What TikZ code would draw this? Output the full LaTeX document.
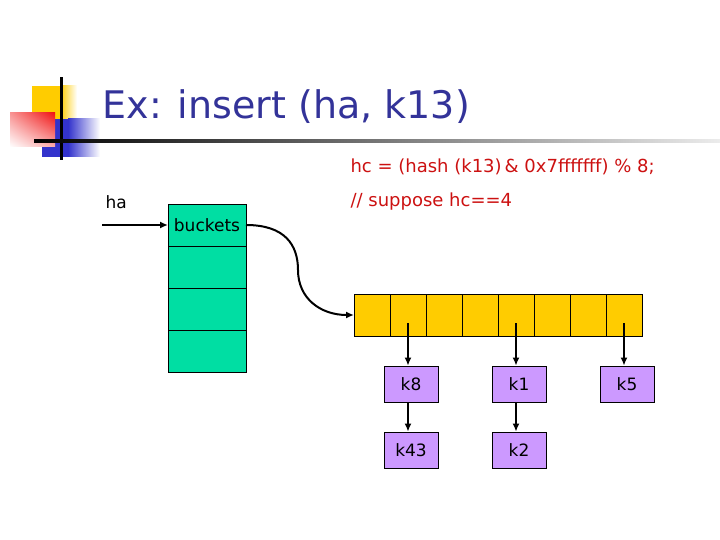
\documentclass[tikz,border=0pt]{standalone}
\usepackage{fontspec}
\setmainfont{DejaVu Sans}
\usetikzlibrary{arrows.meta,positioning,shadings}
\definecolor{titleblue}{RGB}{51,51,153}
\definecolor{codered}{RGB}{204,17,17}
\definecolor{bucketgreen}{RGB}{0,222,163}
\definecolor{slotyellow}{RGB}{255,204,0}
\definecolor{entrypurple}{RGB}{204,153,255}
\definecolor{logoyellow}{RGB}{255,204,0}
\definecolor{logoblue}{RGB}{51,51,204}
\definecolor{logored}{RGB}{240,20,20}

\begin{document}
\begin{tikzpicture}[x=1pt,y=-1pt,font=\fontsize{17}{20}\selectfont]
  %----- styles
  \tikzset{
    bucket/.style={draw,line width=0.8pt,fill=bucketgreen,minimum width=78pt,minimum height=42pt,inner sep=0pt,outer sep=0pt},
    slot/.style  ={draw,line width=0.8pt,fill=slotyellow,minimum width=36pt,minimum height=42pt,inner sep=0pt,outer sep=0pt},
    entry/.style ={draw,line width=0.8pt,fill=entrypurple,minimum width=54pt,minimum height=36pt,inner sep=0pt},
    note/.style  ={anchor=base west,text=codered,font=\fontsize{18}{21}\selectfont},
    arrow/.style ={-{Latex[length=8pt,width=7pt]},line width=2pt}
  }
  \useasboundingbox (0,0) rectangle (720,540);

  %----- title logo
  \fill[logoyellow] (32,86) rectangle (60,120);
  \shade[left color=logoyellow,right color=white] (60,86) rectangle (77,120);
  \fill[logoblue] (42,119) rectangle (68,157);
  \shade[left color=logoblue,right color=white] (68,119) rectangle (100,157);
  \shade[upper right=logored,upper left=logored!45!white,
         lower left=white,lower right=logored!35!white] (10,113) rectangle (55,147);
  \fill (59.5,77) rectangle (62.5,160);
  \shade[left color=black,right color=gray!15] (34,139.5) rectangle (720,142.5);

  %----- title and notes
  \node[anchor=base west,text=titleblue,font=\fontsize{38}{40}\selectfont] (title) at (99,119) {Ex: insert (ha, k13)};
  \node[note] (hcline)  at (347,173) {hc = (hash (k13)\,\& 0x7fffffff) \% 8;};
  \node[note] (suppose) at (347,207) {// suppose hc==4};

  %----- buckets
  \node[bucket] (b1) at (207,225) {buckets};
  \foreach \i [count=\j from 2] in {1,2,3}
    \node[bucket,below=0pt of b\i] (b\j) {};
  \node[anchor=base west] (ha) at (102,208) {ha};
  \coordinate (hain) at (102,225);
  \draw[arrow] (hain) -- (b1.west);

  %----- table of slots
  \node[slot] (c1) at (372,315) {};
  \foreach \i [count=\j from 2] in {1,...,7}
    \node[slot,right=0pt of c\i] (c\j) {};
  \draw[arrow] (b1.east) .. controls (285,225) and (298,245) .. (298,270)
                         .. controls (298,298) and (320,315) .. (c1.west);

  %----- chains
  \node[entry] (k8)  at (411,384) {k8};
  \node[entry] (k43) at (411,450) {k43};
  \node[entry] (k1)  at (519,384) {k1};
  \node[entry] (k2)  at (519,450) {k2};
  \node[entry] (k5)  at (627,384) {k5};

  \draw[arrow] ([yshift=-8pt]c2.center) -- (c2 |- k8.north);
  \draw[arrow] ([yshift=-8pt]c5.center) -- (c5 |- k1.north);
  \draw[arrow] ([yshift=-8pt]c8.center) -- (c8 |- k5.north);
  \draw[arrow] (c2 |- k8.south) -- (c2 |- k43.north);
  \draw[arrow] (c5 |- k1.south) -- (c5 |- k2.north);
\end{tikzpicture}
\end{document}
